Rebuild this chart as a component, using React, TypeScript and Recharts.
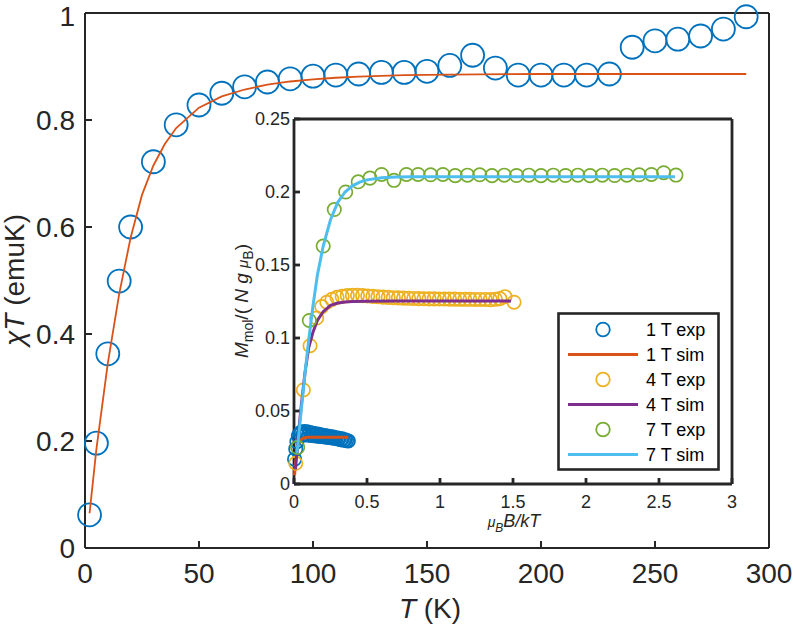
import { ComposedChart, Scatter, Line, XAxis, YAxis, Legend } from "recharts";

const AXIS = "#262626";
const FONT = "'Liberation Sans', Arial, Helvetica, sans-serif";

const BLUE = "#0072BD";
const RED = "#D95319";
const ORANGE = "#EDB120";
const PURPLE = "#7E2F8E";
const GREEN = "#77AC30";
const CYAN = "#4DBEEE";

// main plot: chi*T vs T
const tExp = [2, 5, 10, 15, 20, 30, 40, 50, 60, 70, 80, 90, 100, 110, 120, 130, 140, 150, 160, 170, 180, 190, 200, 210, 220, 230, 240, 250, 260, 270, 280, 290];
const chiTExp = [0.062, 0.196, 0.363, 0.499, 0.6, 0.722, 0.791, 0.828, 0.85, 0.862, 0.871, 0.877, 0.882, 0.884, 0.886, 0.889, 0.889, 0.891, 0.902, 0.921, 0.897, 0.884, 0.884, 0.884, 0.884, 0.886, 0.936, 0.948, 0.951, 0.957, 0.97, 0.993];
const tSim = [2, 5, 10, 15, 20, 25, 30, 35, 40, 50, 60, 70, 80, 90, 100, 110, 120, 140, 160, 200, 250, 290];
const chiTSim = [0.065, 0.185, 0.345, 0.475, 0.58, 0.66, 0.715, 0.755, 0.785, 0.823, 0.844, 0.857, 0.866, 0.872, 0.876, 0.879, 0.881, 0.884, 0.885, 0.886, 0.886, 0.886];
const mainXTicks = [0, 50, 100, 150, 200, 250, 300];
const mainYTicks = [0, 0.2, 0.4, 0.6, 0.8, 1];

// inset: M vs muB B / kT
const x1Exp = [0.004, 0.012, 0.02, 0.03, 0.04, 0.05, 0.06, 0.07, 0.08, 0.09, 0.1, 0.11, 0.12, 0.13, 0.14, 0.15, 0.16, 0.17, 0.18, 0.19, 0.2, 0.21, 0.22, 0.23, 0.24, 0.25, 0.26, 0.27, 0.28, 0.29, 0.3, 0.31, 0.32, 0.33, 0.34, 0.35, 0.36, 0.372];
const m1Exp = [0.017, 0.024, 0.029, 0.033, 0.0345, 0.0355, 0.0335, 0.036, 0.0338, 0.0358, 0.0335, 0.0352, 0.0332, 0.0348, 0.033, 0.0344, 0.0328, 0.034, 0.0326, 0.0336, 0.0324, 0.0332, 0.0321, 0.0328, 0.0318, 0.0325, 0.0315, 0.0321, 0.0312, 0.0317, 0.0308, 0.0313, 0.0304, 0.0309, 0.03, 0.0303, 0.0297, 0.0295];
const x1Sim = [0.004, 0.01, 0.02, 0.03, 0.04, 0.06, 0.08, 0.1, 0.15, 0.2, 0.372];
const m1Sim = [0.006, 0.014, 0.022, 0.027, 0.0295, 0.0312, 0.0318, 0.032, 0.0321, 0.0321, 0.0321];

const x4Exp = [0.012, 0.064, 0.11, 0.155, 0.19, 0.225, 0.26, 0.295, 0.33, 0.365, 0.4, 0.435, 0.47, 0.505, 0.54, 0.575, 0.61, 0.645, 0.68, 0.715, 0.75, 0.785, 0.82, 0.855, 0.89, 0.925, 0.96, 0.995, 1.03, 1.065, 1.1, 1.135, 1.17, 1.205, 1.24, 1.275, 1.31, 1.345, 1.38, 1.41, 1.445, 1.507];
const m4Exp = [0.0142, 0.0644, 0.0947, 0.1137, 0.1215, 0.1245, 0.1265, 0.1278, 0.1285, 0.129, 0.1292, 0.1292, 0.129, 0.1288, 0.1285, 0.1283, 0.128, 0.1278, 0.1276, 0.1275, 0.1273, 0.1272, 0.1271, 0.127, 0.1269, 0.1268, 0.1268, 0.1267, 0.1267, 0.1266, 0.1266, 0.1265, 0.1265, 0.1265, 0.1264, 0.1264, 0.1264, 0.1263, 0.1265, 0.127, 0.1283, 0.1245];
const x4Sim = [0.01, 0.03, 0.05, 0.075, 0.1, 0.13, 0.16, 0.2, 0.25, 0.3, 0.35, 0.4, 0.5, 0.7, 1.0, 1.486];
const m4Sim = [0.01, 0.034, 0.054, 0.076, 0.093, 0.104, 0.112, 0.118, 0.1223, 0.124, 0.1247, 0.125, 0.1252, 0.1253, 0.1253, 0.1253];

const x7Exp = [0.025, 0.105, 0.2, 0.276, 0.354, 0.44, 0.52, 0.6, 0.685, 0.77, 0.85, 0.936, 1.02, 1.104, 1.188, 1.272, 1.356, 1.44, 1.524, 1.608, 1.692, 1.776, 1.86, 1.944, 2.028, 2.112, 2.196, 2.28, 2.364, 2.448, 2.532, 2.616];
const m7Exp = [0.025, 0.112, 0.163, 0.188, 0.2, 0.207, 0.2095, 0.212, 0.208, 0.212, 0.212, 0.2118, 0.212, 0.2112, 0.2115, 0.2118, 0.2112, 0.2115, 0.2113, 0.2115, 0.2112, 0.2115, 0.2113, 0.2115, 0.2112, 0.2115, 0.2113, 0.2115, 0.2118, 0.212, 0.2132, 0.2116];
const x7Sim = [0.02, 0.05, 0.08, 0.1, 0.13, 0.16, 0.2, 0.25, 0.3, 0.35, 0.4, 0.45, 0.5, 0.6, 0.7, 0.8, 1.0, 1.5, 2.0, 2.61];
const m7Sim = [0.021, 0.051, 0.08, 0.098, 0.122, 0.143, 0.163, 0.181, 0.193, 0.2, 0.2042, 0.2068, 0.2083, 0.2097, 0.2102, 0.2104, 0.2105, 0.2105, 0.2105, 0.2105];

const insetXTicks = [0, 0.5, 1, 1.5, 2, 2.5, 3];
const insetYTicks = [0, 0.05, 0.1, 0.15, 0.2, 0.25];

const legendColors: Record<string, string> = {
    "1 T exp": BLUE,
    "1 T sim": RED,
    "4 T exp": ORANGE,
    "4 T sim": PURPLE,
    "7 T exp": GREEN,
    "7 T sim": CYAN,
};

const pts = (xs: number[], ys: number[]) => xs.map((x, i) => ({ x, y: ys[i] }));

const ring = (r: number, color: string, w: number) => (props: any) => (
    <circle cx={props.cx} cy={props.cy} r={r} fill="none" stroke={color} strokeWidth={w} />
);

function InsetLegend(props: any) {
    const items = props.payload || [];
    return (
        <svg width={163} height={159} style={{ display: "block" }}>
            <rect x={1.5} y={1.5} width={160} height={156} fill="#fff" stroke={AXIS} strokeWidth={2.6} />
            {items.map((it: any, i: number) => {
                const y = 17.5 + i * 25;
                const color = legendColors[it.value];
                const isSim = String(it.value).includes("sim");
                return (
                    <g key={i}>
                        {isSim ? (
                            <line x1={11} x2={81} y1={y} y2={y} stroke={color} strokeWidth={3} />
                        ) : (
                            <circle cx={46} cy={y} r={6.8} fill="none" stroke={color} strokeWidth={1.8} />
                        )}
                        <text x={89} y={y + 6.5} fontSize={18} fill="#000" fontFamily={FONT}>
                            {it.value}
                        </text>
                    </g>
                );
            })}
        </svg>
    );
}

export default function App() {
    const mainTick = { fill: AXIS, fontSize: 28, fontFamily: FONT };
    const insetTick = { fill: AXIS, fontSize: 18, fontFamily: FONT };

    return (
        <div style={{ position: "absolute", left: 0, top: 0, width: 794, height: 628, background: "#fff", fontFamily: FONT }}>
            <div style={{ position: "absolute", left: 0, top: 0 }}>
                <ComposedChart width={794} height={628} margin={{ top: 12, right: 24, bottom: 79, left: 84 }}>
                    <XAxis xAxisId="b" type="number" dataKey="x" domain={[0, 300]} ticks={mainXTicks} height={1}
                        tickSize={-7} tickMargin={22} stroke={AXIS} strokeWidth={2} tick={mainTick} />
                    <XAxis xAxisId="t" orientation="top" type="number" dataKey="x" domain={[0, 300]} ticks={mainXTicks}
                        height={1} tickSize={-7} stroke={AXIS} strokeWidth={2} tick={false} />
                    <YAxis yAxisId="l" type="number" dataKey="y" domain={[0, 1]} ticks={mainYTicks} width={1}
                        tickSize={-7} tickMargin={17} stroke={AXIS} strokeWidth={2} tick={mainTick} />
                    <YAxis yAxisId="r" orientation="right" type="number" dataKey="y" domain={[0, 1]} ticks={mainYTicks}
                        width={1} tickSize={-7} stroke={AXIS} strokeWidth={2} tick={false} />
                    <Scatter xAxisId="b" yAxisId="l" name="exp" data={pts(tExp, chiTExp)} shape={ring(11.5, BLUE, 1.8)}
                        zIndex={610} isAnimationActive={false} />
                    <Line xAxisId="b" yAxisId="l" name="sim" data={pts(tSim, chiTSim)} dataKey="y" type="linear"
                        stroke={RED} strokeWidth={1.8} dot={false} zIndex={620} isAnimationActive={false} />
                </ComposedChart>
            </div>

            <div style={{ position: "absolute", left: 230, top: 100 }}>
                <ComposedChart width={520} height={445} margin={{ top: 18, right: 17, bottom: 60, left: 63 }}>
                    <XAxis xAxisId="b" type="number" dataKey="x" domain={[0, 3]} ticks={insetXTicks} height={1}
                        tickSize={-6} tickMargin={17} stroke={AXIS} strokeWidth={2.8} tick={insetTick} />
                    <XAxis xAxisId="t" orientation="top" type="number" dataKey="x" domain={[0, 3]} ticks={insetXTicks}
                        height={1} tickSize={-6} stroke={AXIS} strokeWidth={2.8} tick={false} />
                    <YAxis yAxisId="l" type="number" dataKey="y" domain={[0, 0.25]} ticks={insetYTicks} width={1}
                        tickSize={-6} tickMargin={10} stroke={AXIS} strokeWidth={2.8} tick={insetTick} />
                    <YAxis yAxisId="r" orientation="right" type="number" dataKey="y" domain={[0, 0.25]} ticks={insetYTicks}
                        width={1} tickSize={-6} stroke={AXIS} strokeWidth={2.8} tick={false} />
                    <Scatter xAxisId="b" yAxisId="l" name="1 T exp" data={pts(x1Exp, m1Exp)} shape={ring(6.7, BLUE, 1.7)}
                        zIndex={610} isAnimationActive={false} />
                    <Line xAxisId="b" yAxisId="l" name="1 T sim" data={pts(x1Sim, m1Sim)} dataKey="y" type="linear"
                        stroke={RED} strokeWidth={3} dot={false} zIndex={620} isAnimationActive={false} />
                    <Scatter xAxisId="b" yAxisId="l" name="4 T exp" data={pts(x4Exp, m4Exp)} shape={ring(6.7, ORANGE, 1.7)}
                        zIndex={630} isAnimationActive={false} />
                    <Line xAxisId="b" yAxisId="l" name="4 T sim" data={pts(x4Sim, m4Sim)} dataKey="y" type="linear"
                        stroke={PURPLE} strokeWidth={3} dot={false} zIndex={640} isAnimationActive={false} />
                    <Scatter xAxisId="b" yAxisId="l" name="7 T exp" data={pts(x7Exp, m7Exp)} shape={ring(6.7, GREEN, 1.7)}
                        zIndex={650} isAnimationActive={false} />
                    <Line xAxisId="b" yAxisId="l" name="7 T sim" data={pts(x7Sim, m7Sim)} dataKey="y" type="linear"
                        stroke={CYAN} strokeWidth={3} dot={false} zIndex={660} isAnimationActive={false} />
                    <Legend layout="vertical" align="center" verticalAlign="middle" width={163} height={159}
                        wrapperStyle={{ left: 327, top: 212, width: 163, height: 159 }} content={InsetLegend} />
                </ComposedChart>
            </div>

            <svg width={794} height={628} style={{ position: "absolute", left: 0, top: 0, pointerEvents: "none" }}>
                <text x={430} y={618} fontSize={28} textAnchor="middle" fill={AXIS} fontFamily={FONT}>
                    <tspan fontStyle="italic">T</tspan> (K)
                </text>
                <text transform="translate(24,280) rotate(-90)" fontSize={28} textAnchor="middle" fill={AXIS} fontFamily={FONT}>
                    <tspan fontStyle="italic">χT</tspan> (emuK)
                </text>
                <text x={514} y={527} fontSize={18} textAnchor="middle" fill={AXIS} fontFamily={FONT} fontStyle="italic">
                    <tspan fontSize={14}>μ</tspan>
                    <tspan fontSize={12} dy={5}>B</tspan>
                    <tspan dy={-5}>B/kT</tspan>
                </text>
                <text transform="translate(248,301) rotate(-90)" fontSize={19} textAnchor="middle" fill={AXIS} fontFamily={FONT}>
                    <tspan fontStyle="italic">M</tspan>
                    <tspan fontSize={14} dy={5}>mol</tspan>
                    <tspan dy={-5}>/( </tspan>
                    <tspan fontStyle="italic">N g </tspan>
                    <tspan fontStyle="italic" fontSize={15}>μ</tspan>
                    <tspan fontSize={14} dy={5}>B</tspan>
                    <tspan dy={-5}>)</tspan>
                </text>
            </svg>
        </div>
    );
}
